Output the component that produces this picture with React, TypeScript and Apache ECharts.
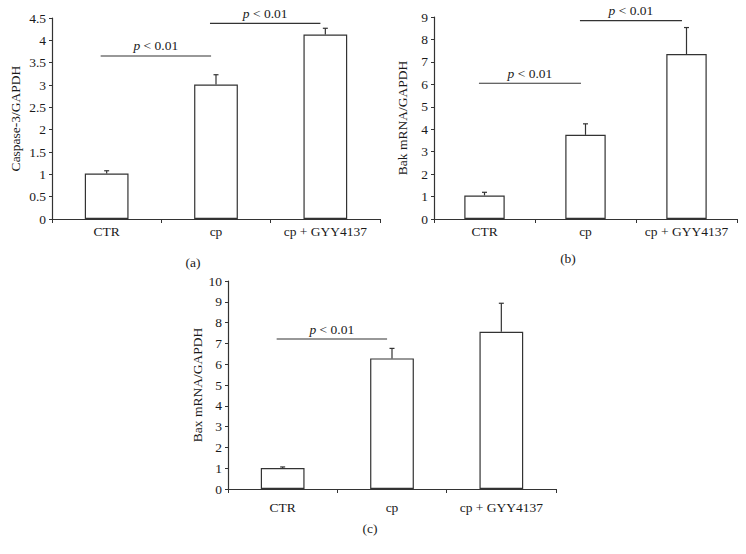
import React, { useEffect, useRef } from "react";
import * as echarts from "echarts";

const categories = ["CTR", "cp", "cp + GYY4137"];

const caspaseMean = [1.02, 3.01, 4.13];
const caspaseErr = [0.06, 0.22, 0.14];
const bakMean = [1.05, 3.75, 7.35];
const bakErr = [0.14, 0.49, 1.18];
const baxMean = [1.01, 6.28, 7.56];
const baxErr = [0.05, 0.48, 1.37];

// [from category, to category, y level]
const sigA = [
  [0, 1, 3.65],
  [1, 2, 4.38],
];
const sigB = [
  [0, 1, 6.05],
  [1, 2, 8.84],
];
const sigC = [[0, 1, 7.21]];

const yTitles = ["Caspase-3/GAPDH", "Bak mRNA/GAPDH", "Bax mRNA/GAPDH"];
const panelLabels = ["(a)", "(b)", "(c)"];

const FONT = "Liberation Serif";
const INK = "#333";
const TEXT = "#1a1a1a";

export default function App() {
  const ref = useRef<HTMLDivElement>(null);

  useEffect(() => {
    if (!ref.current) return;
    const chart = echarts.init(ref.current, undefined, { renderer: "svg" });

    const grids = [
      { left: 52, top: 18, width: 328, height: 201 },
      { left: 434, top: 17, width: 303, height: 202 },
      { left: 228, top: 281, width: 328, height: 208 },
    ];
    const yCfg = [
      { max: 4.5, interval: 0.5, nameGap: 30 },
      { max: 9, interval: 1, nameGap: 25 },
      { max: 10, interval: 1, nameGap: 23 },
    ];
    const xLabelMargin = [5, 5, 11];
    const means = [caspaseMean, bakMean, baxMean];
    const errs = [caspaseErr, bakErr, baxErr];
    const sigs = [sigA, sigB, sigC];

    const errRender = (params: any, api: any) => {
      const x = api.value(0);
      const m = api.value(1);
      const e = api.value(2);
      const p0 = api.coord([x, m]);
      const p1 = api.coord([x, m + e]);
      const style = { stroke: INK, lineWidth: 1.2 };
      return {
        type: "group",
        children: [
          { type: "line", shape: { x1: p0[0], y1: p0[1], x2: p1[0], y2: p1[1] }, style },
          { type: "line", shape: { x1: p1[0] - 2.5, y1: p1[1], x2: p1[0] + 2.5, y2: p1[1] }, style },
        ],
      };
    };

    const sigRender = (params: any, api: any) => {
      const band = api.size([1, 0])[0];
      const a = api.coord([api.value(0), api.value(2)]);
      const b = api.coord([api.value(1), api.value(2)]);
      const x1 = a[0] - 0.055 * band;
      const x2 = b[0] - 0.045 * band;
      return {
        type: "group",
        children: [
          {
            type: "line",
            shape: { x1, y1: a[1], x2, y2: a[1] },
            style: { stroke: INK, lineWidth: 1.1 },
          },
          {
            type: "text",
            style: {
              text: "{i|p} < 0.01",
              x: (x1 + x2) / 2,
              y: a[1] - 3,
              align: "center",
              verticalAlign: "bottom",
              fontFamily: FONT,
              fontSize: 13.5,
              fill: TEXT,
              rich: {
                i: { fontStyle: "italic", fontFamily: FONT, fontSize: 13.5, fill: TEXT },
              },
            },
          },
        ],
      };
    };

    const series: any[] = [];
    for (let i = 0; i < 3; i++) {
      series.push({
        type: "bar",
        xAxisIndex: i,
        yAxisIndex: i,
        data: means[i],
        barWidth: "40%",
        itemStyle: { color: "#fff", borderColor: INK, borderWidth: 1.2 },
        z: 2,
      });
      series.push({
        type: "custom",
        xAxisIndex: i,
        yAxisIndex: i,
        data: means[i].map((m, k) => [k, m, errs[i][k]]),
        encode: { x: 0, y: 1 },
        renderItem: errRender,
        z: 3,
      });
      series.push({
        type: "custom",
        xAxisIndex: i,
        yAxisIndex: i,
        data: sigs[i],
        encode: { x: 0, y: 2 },
        renderItem: sigRender,
        clip: false,
        z: 4,
      });
    }

    const option: any = {
      animation: false,
      backgroundColor: "#fff",
      textStyle: { fontFamily: FONT },
      grid: grids.map((g) => ({ ...g, containLabel: false })),
      xAxis: grids.map((_, i) => ({
        type: "category",
        gridIndex: i,
        data: categories,
        boundaryGap: true,
        axisLine: { lineStyle: { color: INK, width: 1.2 } },
        axisTick: { show: true, length: 4, alignWithLabel: false, lineStyle: { color: INK } },
        axisLabel: {
          color: TEXT,
          fontFamily: FONT,
          fontSize: 13.5,
          margin: xLabelMargin[i],
          interval: 0,
        },
        splitLine: { show: false },
      })),
      yAxis: grids.map((_, i) => ({
        type: "value",
        gridIndex: i,
        min: 0,
        max: yCfg[i].max,
        interval: yCfg[i].interval,
        name: yTitles[i],
        nameLocation: "middle",
        nameRotate: 90,
        nameGap: yCfg[i].nameGap,
        nameTextStyle: { color: TEXT, fontFamily: FONT, fontSize: 13.5 },
        axisLine: { show: true, lineStyle: { color: INK, width: 1.2 } },
        axisTick: { show: true, length: 3, lineStyle: { color: INK } },
        axisLabel: { color: TEXT, fontFamily: FONT, fontSize: 13.5, margin: 6 },
        splitLine: { show: false },
      })),
      series,
      graphic: [
        { type: "text", x: 193, y: 262, style: { text: panelLabels[0], align: "center", verticalAlign: "middle", fontFamily: FONT, fontSize: 13.5, fill: TEXT } },
        { type: "text", x: 568, y: 258, style: { text: panelLabels[1], align: "center", verticalAlign: "middle", fontFamily: FONT, fontSize: 13.5, fill: TEXT } },
        { type: "text", x: 370, y: 528, style: { text: panelLabels[2], align: "center", verticalAlign: "middle", fontFamily: FONT, fontSize: 13.5, fill: TEXT } },
      ],
    };

    chart.setOption(option);
    return () => chart.dispose();
  }, []);

  return (
    <div
      ref={ref}
      style={{ position: "absolute", left: 0, top: 0, width: 746, height: 554, background: "#fff" }}
    />
  );
}
